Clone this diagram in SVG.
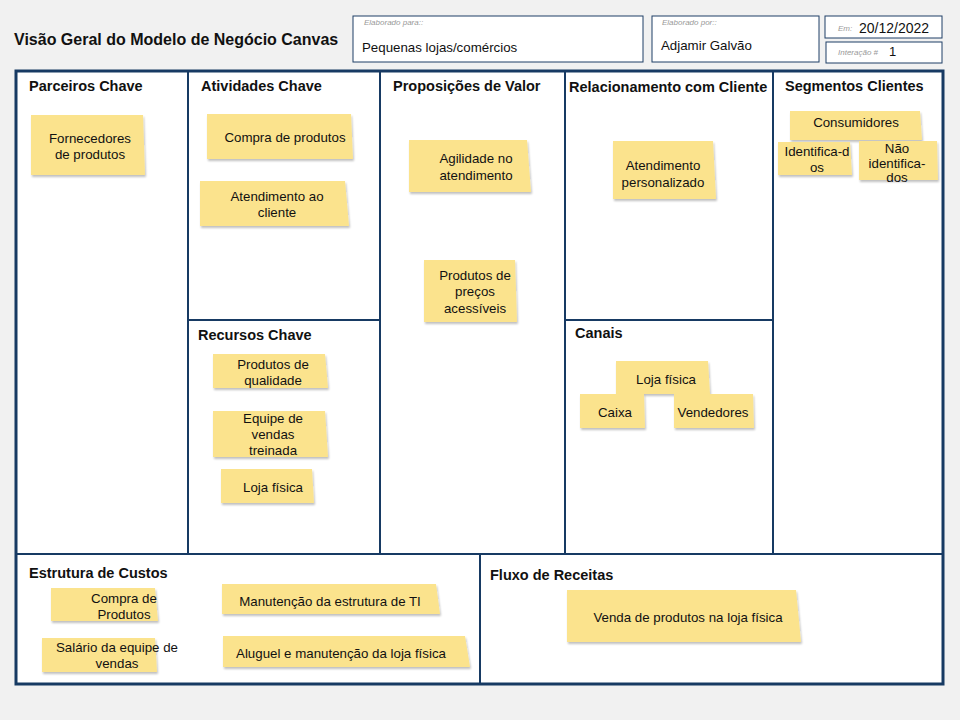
<svg xmlns="http://www.w3.org/2000/svg" width="960" height="720" viewBox="0 0 960 720">
<defs>
<filter id="sh" x="-10%" y="-10%" width="125%" height="135%">
<feGaussianBlur in="SourceAlpha" stdDeviation="1.2"/>
<feOffset dx="1" dy="2" result="b"/>
<feComponentTransfer><feFuncA type="linear" slope="0.25"/></feComponentTransfer>
<feMerge><feMergeNode/><feMergeNode in="SourceGraphic"/></feMerge>
</filter>
</defs>
<style>
text{font-family:"Liberation Sans",Arial,sans-serif;fill:#111}
.title{font-size:16px;font-weight:bold}
.sec{font-size:14.5px;font-weight:bold}
.hdr{fill:#fff;stroke:#1f3f66;stroke-width:1}
.lbl{font-size:8px;font-style:italic;fill:#999}
.val{font-size:13.3px}
.frame{fill:#fff;stroke:#173a63;stroke-width:3}
.div{stroke:#173a63;stroke-width:2;fill:none}
.note{fill:#fbe38d;filter:url(#sh)}
.nt{font-size:13.3px;text-anchor:middle}
</style>
<rect x="0" y="0" width="960" height="720" fill="#f1f1f1"/>
<text class="title" x="14" y="45">Visão Geral do Modelo de Negócio Canvas</text>

<g id="header">
<rect class="hdr" x="353" y="16" width="290" height="46"/>
<text class="lbl" x="364" y="25">Elaborado para::</text>
<text class="val" x="362" y="52">Pequenas lojas/comércios</text>
<rect class="hdr" x="652" y="16" width="167" height="46"/>
<text class="lbl" x="662" y="25">Elaborado por::</text>
<text class="val" x="661" y="50">Adjamir Galvão</text>
<rect class="hdr" x="825" y="16" width="117" height="22"/>
<text class="lbl" x="838" y="31">Em:</text>
<text x="859" y="33" style="font-size:14px">20/12/2022</text>
<rect class="hdr" x="826" y="42" width="116" height="21"/>
<text class="lbl" x="838" y="55">Interação #</text>
<text x="889" y="56" style="font-size:13px">1</text>
</g>

<g id="canvas">
<rect class="frame" x="16" y="71" width="927" height="613"/>
<path class="div" d="M188 72V554M380 72V554M565 72V554M773 72V554M188 320H380M565 320H773M16 554H943M480 554V684"/>
</g>

<g id="sections">
<text class="sec" x="29" y="91">Parceiros Chave</text>
<text class="sec" x="201" y="91">Atividades Chave</text>
<text class="sec" x="393" y="91">Proposições de Valor</text>
<text class="sec" x="569" y="92">Relacionamento com Cliente</text>
<text class="sec" x="785" y="91">Segmentos Clientes</text>
<text class="sec" x="198" y="340">Recursos Chave</text>
<text class="sec" x="575" y="338">Canais</text>
<text class="sec" x="29" y="578">Estrutura de Custos</text>
<text class="sec" x="490" y="580">Fluxo de Receitas</text>
</g>

<g id="n-fornecedores"><path class="note" d="M31 115H143L145 175H31Z"/><text class="nt" x="90" y="143">Fornecedores</text><text class="nt" x="90" y="159">de produtos</text></g>
<g id="n-compra"><path class="note" d="M207 114H351L353 159H207Z"/><text class="nt" x="285" y="142">Compra de produtos</text></g>
<g id="n-atend-cliente"><path class="note" d="M200 181H345L349 226H200Z"/><text class="nt" x="277" y="201">Atendimento ao</text><text class="nt" x="277" y="217">cliente</text></g>
<g id="n-agilidade"><path class="note" d="M409 140H527L531 192H409Z"/><text class="nt" x="476" y="163">Agilidade no</text><text class="nt" x="476" y="180">atendimento</text></g>
<g id="n-precos"><path class="note" d="M424 260H515L517 322H424Z"/><text class="nt" x="475" y="280">Produtos de</text><text class="nt" x="475" y="296">preços</text><text class="nt" x="475" y="313">acessíveis</text></g>
<g id="n-atend-pers"><path class="note" d="M613 141H713L716 199H613Z"/><text class="nt" x="663" y="170">Atendimento</text><text class="nt" x="663" y="187">personalizado</text></g>
<g id="n-consumidores"><path class="note" d="M790 111H920L922 140H790Z"/><text class="nt" x="856" y="127">Consumidores</text></g>
<g id="n-identificados"><path class="note" d="M778 142H850L852 175H778Z"/><text class="nt" x="817" y="156">Identifica-d</text><text class="nt" x="817" y="172">os</text></g>
<g id="n-nao-ident"><path class="note" d="M859 141H937L938 180H859Z"/><text class="nt" x="897" y="153">Não</text><text class="nt" x="897" y="168">identifica-</text><text class="nt" x="897" y="182">dos</text></g>
<g id="n-qualidade"><path class="note" d="M213 354H325L328 388H213Z"/><text class="nt" x="273" y="369">Produtos de</text><text class="nt" x="273" y="385">qualidade</text></g>
<g id="n-equipe"><path class="note" d="M213 411H325L328 457H213Z"/><text class="nt" x="273" y="423">Equipe de</text><text class="nt" x="273" y="439">vendas</text><text class="nt" x="273" y="455">treinada</text></g>
<g id="n-loja-rc"><path class="note" d="M221 469H312L314 503H221Z"/><text class="nt" x="273" y="492">Loja física</text></g>
<g id="n-loja-canais"><path class="note" d="M616 361H708L710 394H616Z"/><text class="nt" x="666" y="384">Loja física</text></g>
<g id="n-caixa"><path class="note" d="M580 394H644L645 428H580Z"/><text class="nt" x="615" y="417">Caixa</text></g>
<g id="n-vendedores"><path class="note" d="M674 394H753L754 428H674Z"/><text class="nt" x="713" y="417">Vendedores</text></g>
<g id="n-compra-prod"><path class="note" d="M51 588H155L158 621H51Z"/><text class="nt" x="124" y="603">Compra de</text><text class="nt" x="124" y="619">Produtos</text></g>
<g id="n-salario"><path class="note" d="M42 638H155L157 672H42Z"/><text class="nt" x="117" y="652">Salário da equipe de</text><text class="nt" x="117" y="668">vendas</text></g>
<g id="n-manut-ti"><path class="note" d="M222 584H436L440 614H222Z"/><text class="nt" x="330" y="606">Manutenção da estrutura de TI</text></g>
<g id="n-aluguel"><path class="note" d="M223 636H465L470 667H223Z"/><text class="nt" x="341" y="658">Aluguel e manutenção da loja física</text></g>
<g id="n-venda"><path class="note" d="M567 590H796L801 642H567Z"/><text class="nt" x="688" y="622">Venda de produtos na loja física</text></g>
</svg>
